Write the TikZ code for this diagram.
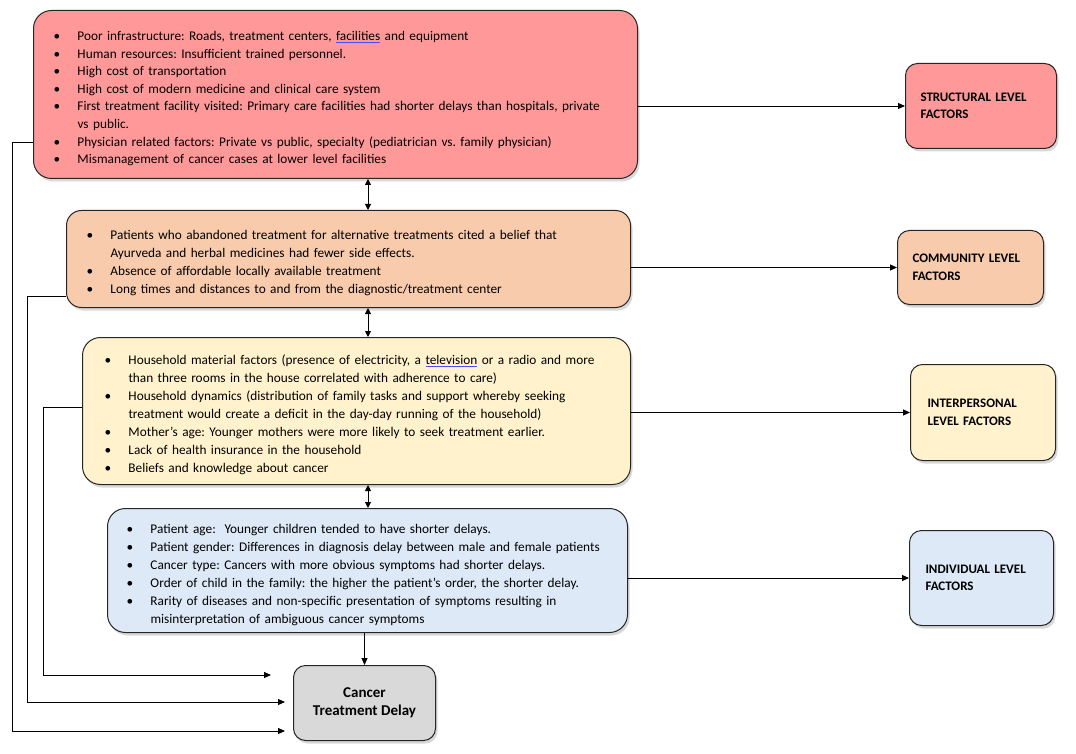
\documentclass[tikz,border=0pt]{standalone}
\usepackage{fontspec}
\setmainfont{Carlito}
\usetikzlibrary{arrows.meta,shadows}

% spell-check mark and bullet item
\newlength{\spllen}
\newcommand{\spl}[1]{\settowidth{\spllen}{#1}\rlap{\textcolor{blue!70}{\rule[-2pt]{\spllen}{0.6pt}}}#1}
\newcommand{\bitem}[1]{\par\hangindent=24pt\noindent\makebox[24pt][l]{\textbullet}#1\par}

\begin{document}
\frenchspacing
\begin{tikzpicture}[x=1pt,y=-1pt]

    % Colors
    \definecolor{structfill}{RGB}{255,153,153}
    \definecolor{commfill}{RGB}{248,203,173}
    \definecolor{interfill}{RGB}{255,242,204}
    \definecolor{indivfill}{RGB}{221,233,246}
    \definecolor{delayfill}{RGB}{217,217,217}

    \tikzset{
        factorbox/.style={draw=black!85, line width=1pt, rounded corners=18pt,
            anchor=north west, align=left, inner xsep=20pt,
            font=\fontsize{13.3}{18}\selectfont,
            drop shadow={shadow xshift=2pt, shadow yshift=-3pt, fill=black!30}},
        levelbox/.style={draw=black!85, line width=1pt, rounded corners=12pt,
            anchor=north west, align=left, inner xsep=15pt,
            font=\bfseries\fontsize{13}{17.5}\selectfont,
            drop shadow={shadow xshift=2pt, shadow yshift=-3pt, fill=black!30}},
        arr/.style={-{Triangle[length=7pt,width=6pt]}, line width=0.9pt},
        dbl/.style={{Triangle[length=6pt,width=6pt]}-{Triangle[length=6pt,width=6pt]}, line width=0.9pt}
    }

    \useasboundingbox (0,0) rectangle (1076,754);

    % Factor boxes
    \node[factorbox, fill=structfill, font=\fontsize{13.3}{17.6}\selectfont, minimum width=604pt, minimum height=168pt, text width=564pt] (struct) at (33,10) {%
        \bitem{Poor infrastructure: Roads, treatment centers, \spl{facilities} and equipment}
        \bitem{Human resources: Insufficient trained personnel.}
        \bitem{High cost of transportation}
        \bitem{High cost of modern medicine and clinical care system}
        \bitem{First treatment facility visited: Primary care facilities had shorter delays than hospitals, private\newline vs public.}
        \bitem{Physician related factors: Private vs public, specialty (pediatrician vs. family physician)}
        \bitem{Mismanagement of cancer cases at lower level facilities}
        \vspace*{9pt}};

    \node[factorbox, fill=commfill, rounded corners=15pt, minimum width=564pt, minimum height=97pt, text width=524pt] (comm) at (66,210) {%
        \bitem{Patients who abandoned treatment for alternative treatments cited a belief that\newline Ayurveda and herbal medicines had fewer side effects.}
        \bitem{Absence of affordable locally available treatment}
        \bitem{Long times and distances to and from the diagnostic/treatment center}
        \vspace*{4pt}};

    \node[factorbox, fill=interfill, inner xsep=22pt, minimum width=548pt, minimum height=147pt, text width=504pt] (inter) at (82,337) {%
        \bitem{Household material factors (presence of electricity, a \spl{television} or a radio and more\newline than three rooms in the house correlated with adherence to care)}
        \bitem{Household dynamics (distribution of family tasks and support whereby seeking\newline treatment would create a deficit in the day-day running of the household)}
        \bitem{Mother’s age: Younger mothers were more likely to seek treatment earlier.}
        \bitem{Lack of health insurance in the household}
        \bitem{Beliefs and knowledge about cancer}
        \vspace*{5pt}};

    \node[factorbox, fill=indivfill, inner xsep=19pt, minimum width=520pt, minimum height=124pt, text width=482pt] (indiv) at (107,508) {%
        \bitem{Patient age:\ \ Younger children tended to have shorter delays.}
        \bitem{Patient gender: Differences in diagnosis delay between male and female patients}
        \bitem{Cancer type: Cancers with more obvious symptoms had shorter delays.}
        \bitem{Order of child in the family: the higher the patient’s order, the shorter delay.}
        \bitem{Rarity of diseases and non-specific presentation of symptoms resulting in\newline misinterpretation of ambiguous cancer symptoms}};

    % Level boxes
    \node[levelbox, fill=structfill, minimum width=151pt, minimum height=85pt, text width=121pt] (structlvl) at (905,63) {STRUCTURAL LEVEL\\FACTORS};
    \node[levelbox, fill=commfill, minimum width=144pt, minimum height=74pt, text width=116pt] (commlvl) at (897,230) {COMMUNITY LEVEL\\FACTORS};
    \node[levelbox, fill=interfill, inner xsep=17pt, minimum width=145pt, minimum height=96pt, text width=111pt] (interlvl) at (910,364) {INTERPERSONAL\\LEVEL FACTORS};
    \node[levelbox, fill=indivfill, inner xsep=16pt, minimum width=144pt, minimum height=95pt, text width=112pt] (indivlvl) at (909,530) {INDIVIDUAL LEVEL\\FACTORS};

    % Outcome
    \node[draw=black!85, line width=1pt, rounded corners=12pt, fill=delayfill, anchor=north west,
        minimum width=142pt, minimum height=75pt, align=center, font=\bfseries\fontsize{15}{18}\selectfont,
        drop shadow={shadow xshift=2pt, shadow yshift=-3pt, fill=black!30}] (delay) at (293,665) {Cancer\\Treatment Delay};

    % Arrows to level boxes
    \draw[arr] (struct.east |- structlvl.west) -- (structlvl.west);
    \draw[arr] (comm.east |- commlvl.west) -- (commlvl.west);
    \draw[arr] (inter.east |- interlvl.west) -- (interlvl.west);
    \draw[arr] (indiv.east |- indivlvl.west) -- (indivlvl.west);

    % Links between factor boxes
    \coordinate (mid) at (368,0);
    \draw[dbl] (struct.south -| mid) -- (comm.north -| mid);
    \draw[dbl] (comm.south -| mid) -- (inter.north -| mid);
    \draw[dbl] (inter.south -| mid) -- (indiv.north -| mid);
    \draw[arr] (indiv.south -| delay.north) -- (delay.north);

    % Feedback lines to the outcome
    \coordinate (loop1) at (12,142);
    \coordinate (loop1b) at (12,731);
    \coordinate (loop2) at (27,296);
    \coordinate (loop2b) at (27,702);
    \coordinate (loop3) at (43,407);
    \coordinate (loop3b) at (43,675);
    \draw[arr, shorten >=8pt] (struct.west |- loop1) -- (loop1) -- (loop1b) -- (delay.west |- loop1b);
    \draw[arr, shorten >=8pt] (comm.west |- loop2) -- (loop2) -- (loop2b) -- (delay.west |- loop2b);
    \draw[arr, shorten >=22pt] (inter.west |- loop3) -- (loop3) -- (loop3b) -- (delay.west |- loop3b);

\end{tikzpicture}
\end{document}
